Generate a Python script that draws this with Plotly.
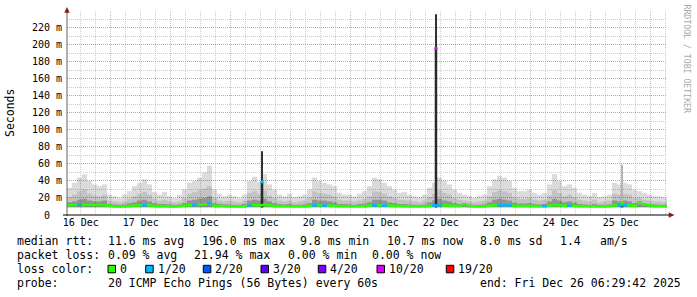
import plotly.graph_objects as go
import pandas as pd

# ---------------- data ----------------
START = "2025-12-16 06:29:42"
END = "2025-12-26 06:29:42"

# smoke envelope per 2-hour bin (ms)
smoke_max = [32, 38, 44, 48, 40, 36, 34, 36, 24, 22, 20, 24,
             28, 34, 38, 42, 36, 27, 24, 27, 22, 20, 24, 30,
             38, 40, 44, 50, 58, 30, 25, 22, 24, 22, 20, 24,
             40, 45, 39, 48, 36, 30, 24, 22, 25, 21, 22, 24,
             30, 44, 40, 38, 36, 34, 26, 24, 24, 22, 25, 28,
             34, 44, 42, 38, 34, 30, 26, 27, 24, 22, 21, 24,
             32, 38, 44, 40, 36, 30, 26, 24, 22, 20, 22, 24,
             34, 42, 46, 44, 40, 32, 28, 28, 30, 26, 24, 26,
             36, 48, 40, 34, 36, 32, 26, 24, 22, 26, 21, 22,
             24, 38, 36, 38, 36, 30, 28, 26, 24, 22, 22, 21]
smoke_mid = [21, 24, 28, 30, 25, 23, 22, 24, 17, 16, 15, 16,
             19, 22, 25, 27, 24, 19, 17, 18, 16, 15, 16, 20,
             25, 27, 29, 31, 34, 20, 17, 16, 17, 16, 15, 17,
             26, 28, 25, 29, 23, 20, 17, 16, 17, 15, 16, 17,
             20, 28, 26, 25, 24, 22, 18, 17, 17, 16, 17, 19,
             22, 28, 27, 25, 22, 20, 18, 18, 17, 16, 15, 17,
             21, 25, 29, 26, 24, 20, 18, 17, 16, 15, 16, 17,
             22, 27, 29, 28, 26, 21, 19, 19, 20, 18, 17, 18,
             23, 29, 26, 22, 24, 21, 18, 17, 16, 18, 15, 16,
             17, 25, 24, 25, 24, 20, 20, 18, 17, 16, 16, 15]
smoke_low = [15, 16, 18, 19, 17, 16, 16, 17, 13, 12.5, 12, 12.5,
             14, 15, 17, 18, 16, 14, 13, 13, 12.5, 12, 12.5, 14,
             17, 18, 19, 20, 22, 14, 13, 12.5, 12.5, 12, 12, 13,
             17, 18, 17, 19, 16, 14, 13, 12.5, 13, 12, 12, 12.5,
             14, 18, 17, 17, 16, 15, 13, 13, 12.5, 12, 13, 13.5,
             15, 18, 18, 17, 15, 14, 13, 13, 12.5, 12, 12, 12.5,
             15, 17, 19, 17, 16, 14, 13, 14, 12.5, 12, 12, 12.5,
             15, 18, 19, 18, 17, 14.5, 13.5, 13.5, 14, 13, 12.5, 13,
             16, 19, 17, 15, 16, 14.5, 13, 12.5, 12, 13, 12, 12,
             12.5, 17, 16, 17, 16, 14, 16, 14, 13, 12.5, 12, 12]
smoke_floor = 9.0

median_rtt = [11.6, 11.8, 12.0, 11.7, 11.9, 11.6, 11.8, 11.5, 10.8, 10.2, 10.0, 10.2,
              10.6, 11.0, 11.4, 11.6, 11.2, 10.8, 10.5, 10.6, 10.2, 10.0, 10.3, 10.9,
              11.5, 11.8, 12.0, 12.6, 14.0, 11.0, 10.6, 10.3, 10.2, 10.1, 10.0, 10.3,
              11.2, 11.6, 11.4, 11.8, 11.3, 10.8, 10.5, 10.3, 10.4, 10.2, 10.1, 10.2,
              10.8, 11.6, 11.4, 11.2, 11.0, 10.8, 10.5, 10.4, 10.3, 10.2, 10.3, 10.5,
              11.0, 11.6, 11.5, 11.2, 11.0, 10.8, 10.6, 10.5, 10.3, 10.2, 10.1, 10.3,
              10.8, 11.2, 11.6, 11.4, 11.1, 10.8, 10.6, 12.4, 10.4, 10.2, 10.3, 10.4,
              10.9, 11.4, 11.7, 11.6, 11.3, 11.0, 10.7, 10.6, 10.8, 10.5, 10.3, 10.4,
              11.0, 11.6, 11.3, 11.0, 11.2, 10.9, 10.6, 10.4, 10.2, 10.3, 10.1, 10.2,
              10.5, 11.3, 11.5, 11.6, 11.4, 11.0, 14.5, 12.5, 11.2, 10.6, 10.4, 10.3]
loss_count = [0, 0, 1, 0, 0, 0, 0, 0, 0, 0, 0, 0,
              0, 0, 0, 1, 0, 0, 0, 0, 0, 0, 0, 0,
              0, 1, 0, 0, 1, 0, 0, 0, 0, 0, 0, 0,
              1, 0, 0, 0, 0, 0, 0, 0, 0, 0, 0, 0,
              0, 1, 0, 1, 0, 0, 0, 0, 0, 0, 0, 0,
              0, 1, 0, 1, 0, 0, 0, 0, 0, 0, 0, 0,
              0, 1, 1, 0, 0, 0, 0, 0, 0, 0, 0, 0,
              0, 0, 1, 1, 1, 0, 0, 0, 0, 0, 0, 1,
              0, 0, 0, 0, 1, 0, 0, 0, 0, 0, 0, 0,
              0, 0, 1, 1, 0, 0, 0, 0, 0, 0, 0, 0]

# isolated spikes
spike_times = ["2025-12-19 12:30", "2025-12-22 10:05", "2025-12-25 12:30"]
spike_core = [39, 196, 14]
spike_peak = [75, 236, 59]
spike_loss = [1, 10, 0]
spike_peak_colors = ["#333333", "#333333", "#b4b4b4"]

y_ticks = [0, 20, 40, 60, 80, 100, 120, 140, 160, 180, 200, 220]
y_tick_text = ["0\u00a0\u00a0", "20 m", "40 m", "60 m", "80 m", "100 m", "120 m",
               "140 m", "160 m", "180 m", "200 m", "220 m"]

loss_levels = [0, 1, 2, 3, 4, 10, 19]
loss_labels = ["0", "1/20", "2/20", "3/20", "4/20", "10/20", "19/20"]
loss_colors = ["#26ff00", "#00b8ff", "#0059ff", "#5e00ff", "#7e00ff", "#dd00ff", "#ff0000"]

rtt_stats = ["median rtt:", "11.6 ms avg", "196.0 ms max", "9.8 ms min",
             "10.7 ms now", "8.0 ms sd", "1.4", "am/s"]
loss_stats = ["packet loss:", "0.09 % avg", "21.94 % max", "0.00 % min", "0.00 % now"]
probe_text = ["probe:", "20 ICMP Echo Pings (56 Bytes) every 60s",
              "end: Fri Dec 26 06:29:42 2025"]

# ---------------- helpers ----------------
L, R, T, B = 67, 667, 11, 215
def px(x):
    return (x - L) / (R - L)
def py(y):
    return (B - y) / (B - T)

def loss_color(n):
    c = loss_colors[0]
    for lv, col in zip(loss_levels, loss_colors):
        if n >= lv:
            c = col
    return c

MONO = "DejaVu Sans Mono"
times = pd.date_range(pd.Timestamp(START) + pd.Timedelta(hours=1), periods=len(smoke_max), freq="2h")
BIN_MS = 2 * 3600 * 1000
PXMS = 10 * 86400 * 1000 / 600.0

fig = go.Figure()

for arr, col in [(smoke_max, "rgba(0,0,0,0.14)"),
                 (smoke_mid, "rgba(0,0,0,0.11)"),
                 (smoke_low, "rgba(0,0,0,0.24)")]:
    fig.add_trace(go.Bar(x=times, y=[v - smoke_floor for v in arr], base=smoke_floor,
                         width=BIN_MS, marker=dict(color=col, line=dict(width=0)),
                         hoverinfo="skip", showlegend=False))

# spikes
fig.add_trace(go.Bar(x=pd.to_datetime(spike_times), y=[v - smoke_floor for v in spike_peak],
                     base=smoke_floor, width=1.0 * PXMS,
                     marker=dict(color=spike_peak_colors, line=dict(width=0)), showlegend=False))
fig.add_trace(go.Bar(x=pd.to_datetime(spike_times), y=[v - smoke_floor for v in spike_core],
                     base=smoke_floor, width=2.5 * PXMS,
                     marker=dict(color="#2a2a2a", line=dict(width=0)), showlegend=False))

# median line coloured by loss
fig.add_trace(go.Bar(x=times, y=[3.0] * len(median_rtt), base=[m - 1.5 for m in median_rtt],
                     width=BIN_MS, marker=dict(color=[loss_color(n) for n in loss_count], line=dict(width=0)),
                     showlegend=False))
fig.add_trace(go.Scatter(x=pd.to_datetime(spike_times), y=spike_core, mode="markers",
                         marker=dict(symbol="square", size=3,
                                     color=[loss_color(n) for n in spike_loss]),
                         showlegend=False))

shapes = []
# axis lines
shapes.append(dict(type="line", xref="paper", yref="paper", x0=px(67), x1=px(67), y0=py(216), y1=py(11),
                   line=dict(color="#666666", width=1)))
shapes.append(dict(type="line", xref="paper", yref="paper", x0=px(63), x1=px(670), y0=py(215), y1=py(215),
                   line=dict(color="#000000", width=1)))
# arrows
shapes.append(dict(type="path", xref="paper", yref="paper",
                   path=f"M {px(67)},{py(7)} L {px(64.3)},{py(12.8)} L {px(69.7)},{py(12.8)} Z",
                   fillcolor="#8b1a1a", line=dict(width=0)))
shapes.append(dict(type="path", xref="paper", yref="paper",
                   path=f"M {px(674.5)},{py(215)} L {px(668.7)},{py(212.3)} L {px(668.7)},{py(217.7)} Z",
                   fillcolor="#8b1a1a", line=dict(width=0)))

annotations = []
def txt(s, x, y, size=11.5, color="#000000", **kw):
    annotations.append(dict(text=s, x=px(x), y=py(y), xref="paper", yref="paper", showarrow=False,
                            xanchor=kw.pop("xanchor", "left"), yanchor="middle", borderpad=0,
                            font=dict(family=MONO, size=size, color=color), **kw))

rtt_x = [16, 107.3, 201, 299.3, 386.3, 479.3, 558.7, 599.3]
for s, x in zip(rtt_stats, rtt_x):
    txt(s, x, 241)
loss_x = [16, 107.3, 193.3, 286.7, 371]
for s, x in zip(loss_stats, loss_x):
    txt(s, x, 255)
txt("loss color:", 16, 269)
sq_x = [108, 145.7, 203.3, 261, 318.3, 377, 446.3]
for lab, col, x in zip(loss_labels, loss_colors, sq_x):
    shapes.append(dict(type="rect", xref="paper", yref="paper", x0=px(x), x1=px(x + 7.5),
                       y0=py(272.8), y1=py(265.3), fillcolor=col, line=dict(color="#000000", width=1)))
    txt(lab, x + 11, 269)
for s, x in zip(probe_text, [16, 107.3, 479]):
    txt(s, x, 283)

txt("Seconds", 10, 113, xanchor="center", textangle=-90)
txt("RRDTOOL / TOBI OETIKER", 686.5, 59, size=8.2, color="#aaaaaa", xanchor="center", textangle=90)

MAJOR = "rgba(225,120,120,0.6)"
MINOR = "rgba(170,170,170,0.6)"
fig.update_layout(
    width=697, height=297,
    margin=dict(l=L, r=697 - R, t=T, b=297 - B, pad=0),
    plot_bgcolor="white", paper_bgcolor="white",
    barmode="overlay", showlegend=False,
    shapes=shapes, annotations=annotations,
    xaxis=dict(type="date", range=[START, END], dtick=86400000, tick0="2025-12-16",
               tickformat="%d %b", ticklabelmode="period", ticks="",
               showgrid=True, gridcolor=MAJOR, griddash="1px,1px", gridwidth=1,
               minor=dict(dtick=21600000, tick0="2025-12-16", showgrid=True, gridcolor=MINOR,
                          griddash="1px,1px", gridwidth=1),
               zeroline=False, showline=False,
               tickfont=dict(family=MONO, size=10, color="#000000")),
    yaxis=dict(range=[0, 239.9], tickmode="array", tickvals=y_ticks, ticktext=y_tick_text,
               ticks="", ticklabelstandoff=4,
               showgrid=True, gridcolor=MAJOR, griddash="1px,1px", gridwidth=1,
               minor=dict(dtick=10, tick0=0, showgrid=True, gridcolor=MINOR,
                          griddash="1px,1px", gridwidth=1),
               zeroline=False, showline=False,
               tickfont=dict(family=MONO, size=10, color="#000000")),
)

fig.write_html("out.html")
